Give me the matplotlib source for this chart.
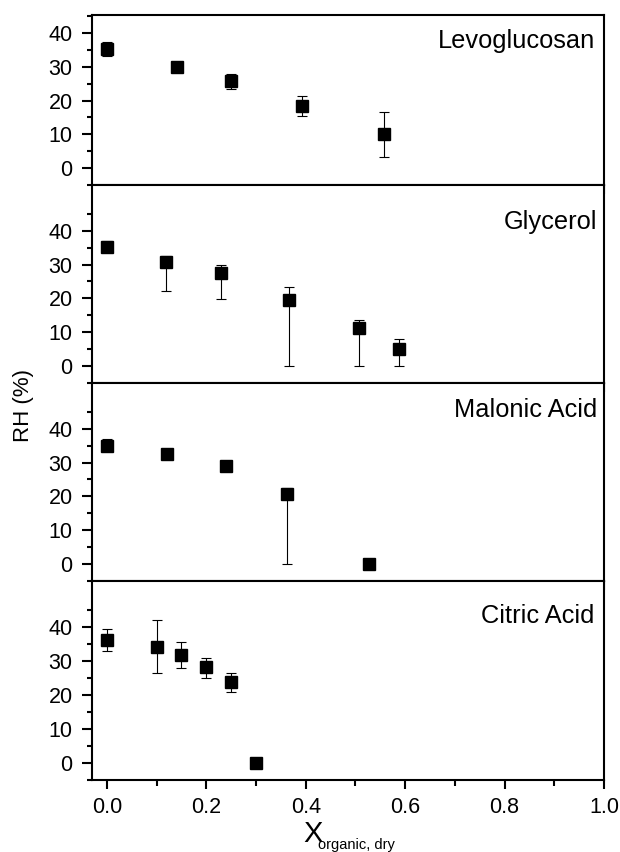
import matplotlib
matplotlib.use("Agg")
import matplotlib.pyplot as plt
import numpy as np

plt.rcParams['font.family'] = ['Liberation Sans', 'DejaVu Sans']

# ---- data ----
names = ["Levoglucosan", "Glycerol", "Malonic Acid", "Citric Acid"]

levo_x = [0.0, 0.14, 0.25, 0.393, 0.558]
levo_y = [35.2, 30.0, 25.7, 18.3, 10.0]
levo_lo = [2.0, 0.5, 2.3, 2.9, 6.8]
levo_hi = [2.0, 0.5, 2.1, 2.9, 6.7]

gly_x = [0.0, 0.119, 0.229, 0.367, 0.508, 0.587]
gly_y = [35.1, 30.7, 27.6, 19.5, 11.2, 4.9]
gly_lo = [1.2, 8.6, 7.9, 19.5, 11.2, 4.9]
gly_hi = [1.9, 1.8, 2.3, 3.8, 2.4, 3.0]

mal_x = [0.0, 0.12, 0.239, 0.362, 0.528]
mal_y = [34.8, 32.4, 29.1, 20.6, 0.0]
mal_lo = [1.0, 0.5, 0.5, 20.6, 0.0]
mal_hi = [2.3, 0.5, 0.5, 2.0, 0.0]

cit_x = [0.0, 0.10, 0.149, 0.20, 0.25, 0.30]
cit_y = [36.3, 34.2, 31.6, 28.1, 23.8, 0.0]
cit_lo = [3.4, 7.8, 3.7, 3.0, 2.9, 0.0]
cit_hi = [3.2, 7.9, 4.0, 2.7, 2.6, 0.0]

series = [(levo_x, levo_y, levo_lo, levo_hi),
          (gly_x, gly_y, gly_lo, gly_hi),
          (mal_x, mal_y, mal_lo, mal_hi),
          (cit_x, cit_y, cit_lo, cit_hi)]

y_major = [0, 10, 20, 30, 40]
y_minor = [-5, 5, 15, 25, 35, 45]
x_major = [0.0, 0.2, 0.4, 0.6, 0.8, 1.0]
x_minor = [0.1, 0.3, 0.5, 0.7, 0.9]

# ---- layout (pixels of a 620x852 canvas) ----
W, H = 620, 852
panel_px = [(15, 185), (185, 383), (383, 581), (581, 780)]
ylims = [(-5, 45.3), (-5, 53.5), (-5, 53.5), (-5, 53.5)]
label_pos = [(0.982, 0.806), (0.986, 0.776), (0.986, 0.827), (0.982, 0.787)]

fig = plt.figure(figsize=(W / 100, H / 100), dpi=100)
left, right = 92, 604

for i, (ser, name) in enumerate(zip(series, names)):
    top, bot = panel_px[i]
    ax = fig.add_axes([left / W, 1 - bot / H, (right - left) / W, (bot - top) / H])
    x, y, lo, hi = ser
    ax.errorbar(x, y, yerr=[lo, hi], fmt='s', color='black', ms=8.6,
                ecolor='black', elinewidth=0.8, capsize=3.6, capthick=0.8, zorder=3)
    ax.set_xlim(-0.03, 1.0)
    ax.set_ylim(*ylims[i])
    ax.set_yticks(y_major)
    ax.set_yticks(y_minor, minor=True)
    ax.set_xticks(x_major)
    ax.set_xticks(x_minor, minor=True)
    for s in ax.spines.values():
        s.set_linewidth(1.5)
    ax.tick_params(axis='y', which='major', direction='out', length=7, width=1.5,
                   labelsize=15.5, pad=7)
    ax.tick_params(axis='y', which='minor', direction='out', length=3.8, width=1.5)
    ax.tick_params(axis='x', which='major', direction='out', length=6.5, width=1.5,
                   labelsize=15.5, pad=6, top=False)
    ax.tick_params(axis='x', which='minor', direction='out', length=4.2, width=1.5, top=False)
    if i < 3:
        ax.tick_params(axis='x', labelbottom=False)
    ax.text(label_pos[i][0], label_pos[i][1], name, transform=ax.transAxes,
            ha='right', va='baseline', fontsize=18.3)

fig.text(23 / W, 1 - 406 / H, 'RH (%)', rotation=90, ha='center', va='center', fontsize=16)
fig.text(303 / W, 1 - 842 / H, 'X', ha='left', va='baseline', fontsize=21)
fig.text(318 / W, 1 - 849 / H, 'organic, dry', ha='left', va='baseline', fontsize=10.5)

fig.savefig('out.png', dpi=100)
